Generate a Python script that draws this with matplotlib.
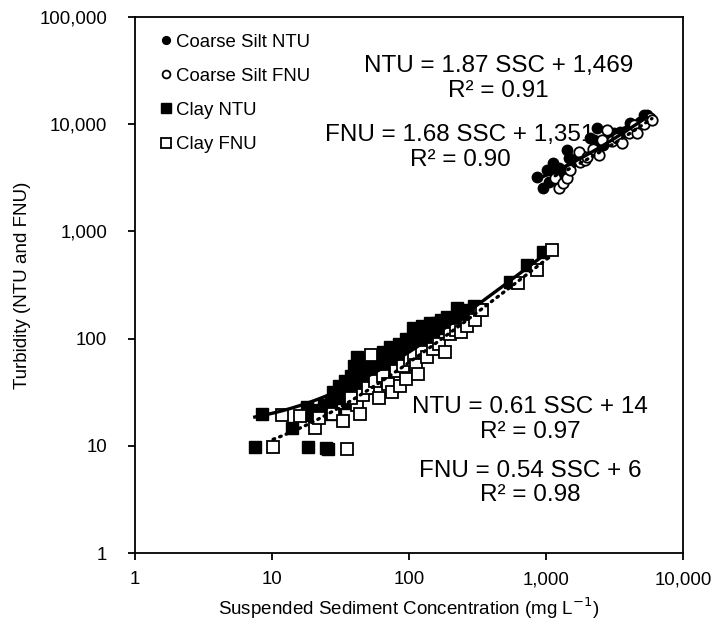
import numpy as np
import matplotlib.pyplot as plt
from matplotlib.ticker import FixedLocator, FuncFormatter

plt.rcParams["font.family"] = ["Liberation Sans", "DejaVu Sans"]
plt.rcParams["font.size"] = 11

# coarse silt samples (SSC mg/L, turbidity)
silt_ssc_ntu = [855, 955, 1012, 1050, 1130, 1163, 1250, 1300, 1416, 1455, 1600, 1800,
                2094, 2215, 2344, 2600, 2800, 3099, 3467, 3800, 4101, 4500, 4800, 5133, 5433]
silt_ntu = [3236, 2523, 3741, 2900, 4316, 3606, 3900, 3300, 5741, 4806, 4600, 5200,
            7383, 7126, 9162, 6400, 7000, 8222, 8514, 8600, 10190, 9800, 10500, 12190, 12190]

silt_ssc_fnu = [1163, 1230, 1337, 1416, 1500, 1722, 1771, 1927, 2000, 2200, 2410, 2549,
                2772, 3000, 3300, 3565, 4000, 4339, 4592, 5200, 5741, 5906]
silt_fnu = [3126, 2523, 2811, 3126, 3700, 5546, 4467, 4634, 4900, 5800, 5165, 7126,
            8830, 6900, 7500, 6634, 8300, 9840, 8222, 10100, 11350, 10950]

# clay samples
clay_ssc_ntu = [7.5, 8.4, 13.9, 18.4, 25, 25.5, 17.9, 21.2, 19, 23, 24, 26, 27, 29, 30,
                31, 33, 34, 36, 38, 40, 41.5, 42, 45, 48, 50, 52, 55, 58, 60, 62, 65, 68,
                70, 73, 76, 80, 85, 88, 92, 95, 100, 107, 110, 115, 120, 125, 130, 142,
                150, 160, 175, 190, 210, 223, 240, 260, 279, 300, 546, 723, 955,
                28, 35, 47, 57, 66, 78, 90, 105, 135, 170, 200]
clay_ntu = [9.7, 19.8, 14.6, 9.7, 9.5, 9.3, 23.2, 21.6, 19.5, 20, 24, 22, 26, 20, 28,
            36, 30, 40, 25, 45, 55, 68, 38, 48, 60, 42, 65, 50, 70, 58, 45, 75, 60,
            52, 84, 68, 72, 90, 62, 78, 100, 85, 125, 95, 110, 88, 130, 105, 139,
            115, 140, 125, 160, 150, 192, 175, 185, 178, 200, 340, 486, 647,
            32, 33, 35, 55, 66, 58, 75, 80, 120, 150, 130]

clay_ssc_fnu = [10.2, 11.8, 20.6, 35, 16, 22, 28, 33, 41.5, 43.9, 38, 46, 50, 53, 56,
                60, 65, 70, 75, 80, 86, 90, 95, 102, 108, 113, 117, 125, 135, 150, 165,
                183, 200, 220, 240, 263, 303, 330, 340, 628, 855, 1100]
clay_fnu = [9.8, 19.4, 14.6, 9.3, 19, 18, 20, 17, 24, 19.7, 28, 30, 35, 70, 40,
            28, 45, 38, 32, 50, 36, 55, 42, 63, 70, 57, 47, 75, 68, 80, 90,
            75, 110, 120, 115, 130, 149, 185, 185, 328, 437, 670]

# trendline coefficients (slope, intercept) as printed on the chart
fits = {
    "silt_ntu": (1.87, 1469),
    "silt_fnu": (1.68, 1351),
    "clay_ntu": (0.61, 14),
    "clay_fnu": (0.54, 6),
}

fig = plt.figure(figsize=(7.17, 6.25), dpi=100)
ax = fig.add_axes([0.188, 0.115, 0.765, 0.858])

ax.plot(silt_ssc_ntu, silt_ntu, 'o', ms=7.5, mfc='black', mec='black', mew=1,
        label='Coarse Silt NTU', zorder=2)
ax.plot(silt_ssc_fnu, silt_fnu, 'o', ms=7.5, mfc='white', mec='black', mew=1.3,
        label='Coarse Silt FNU', zorder=3)
ax.plot(clay_ssc_ntu, clay_ntu, 's', ms=9, mfc='black', mec='black', mew=1,
        label='Clay NTU', zorder=4)
ax.plot(clay_ssc_fnu, clay_fnu, 's', ms=9, mfc='white', mec='black', mew=1.3,
        label='Clay FNU', zorder=5)


def trend(xs, key, ls):
    m, b = fits[key]
    x = np.logspace(np.log10(min(xs)), np.log10(max(xs)), 200)
    if ls == '-':
        ax.plot(x, m * x + b, '-', color='black', lw=2.4, zorder=6)
    else:
        ax.plot(x, m * x + b, color='black', lw=2.4, ls=(0, (0.5, 1.6)),
                dash_capstyle='round', zorder=6)


trend(silt_ssc_ntu, "silt_ntu", '-')
trend(silt_ssc_fnu, "silt_fnu", ':')
trend(clay_ssc_ntu, "clay_ntu", '-')
trend(clay_ssc_fnu, "clay_fnu", ':')

ax.set_xscale('log')
ax.set_yscale('log')
ax.set_xlim(1, 10000)
ax.set_ylim(1, 100000)
ax.xaxis.set_major_locator(FixedLocator([1, 10, 100, 1000, 10000]))
ax.yaxis.set_major_locator(FixedLocator([1, 10, 100, 1000, 10000, 100000]))
ax.xaxis.set_minor_locator(FixedLocator([]))
ax.yaxis.set_minor_locator(FixedLocator([]))
fmt = FuncFormatter(lambda v, p: f"{int(round(v)):,}")
ax.xaxis.set_major_formatter(fmt)
ax.yaxis.set_major_formatter(fmt)
ax.tick_params(direction='out', length=5, width=1.3, labelsize=13.4)
ax.tick_params(axis='y', pad=15)
ax.tick_params(axis='x', pad=8)
for s in ax.spines.values():
    s.set_linewidth(1.3)

ax.set_xlabel('Suspended Sediment Concentration (mg L$^{-1}$)', fontsize=13.5, labelpad=5)
ax.set_ylabel('Turbidity (NTU and FNU)', fontsize=13.5, labelpad=6)

ax.legend(loc='upper left', frameon=False, fontsize=13.4, handletextpad=0.0,
          handlelength=1.0, markerscale=0.75, labelspacing=0.92,
          bbox_to_anchor=(0.01, 1.0), borderaxespad=0.5)

tk = dict(transform=fig.transFigure, ha='center', va='center', fontsize=17.5)
fig.text(499 / 717, 1 - 66 / 625, 'NTU = 1.87 SSC + 1,469', **tk)
fig.text(498 / 717, 1 - 91 / 625, 'R² = 0.91', **tk)
fig.text(460 / 717, 1 - 135 / 625, 'FNU = 1.68 SSC + 1,351', **tk)
fig.text(460 / 717, 1 - 160 / 625, 'R² = 0.90', **tk)
fig.text(530 / 717, 1 - 407 / 625, 'NTU = 0.61 SSC + 14', **tk)
fig.text(530 / 717, 1 - 432 / 625, 'R² = 0.97', **tk)
fig.text(530 / 717, 1 - 471 / 625, 'FNU = 0.54 SSC + 6', **tk)
fig.text(530 / 717, 1 - 495 / 625, 'R² = 0.98', **tk)

plt.savefig('out.png', dpi=100)
